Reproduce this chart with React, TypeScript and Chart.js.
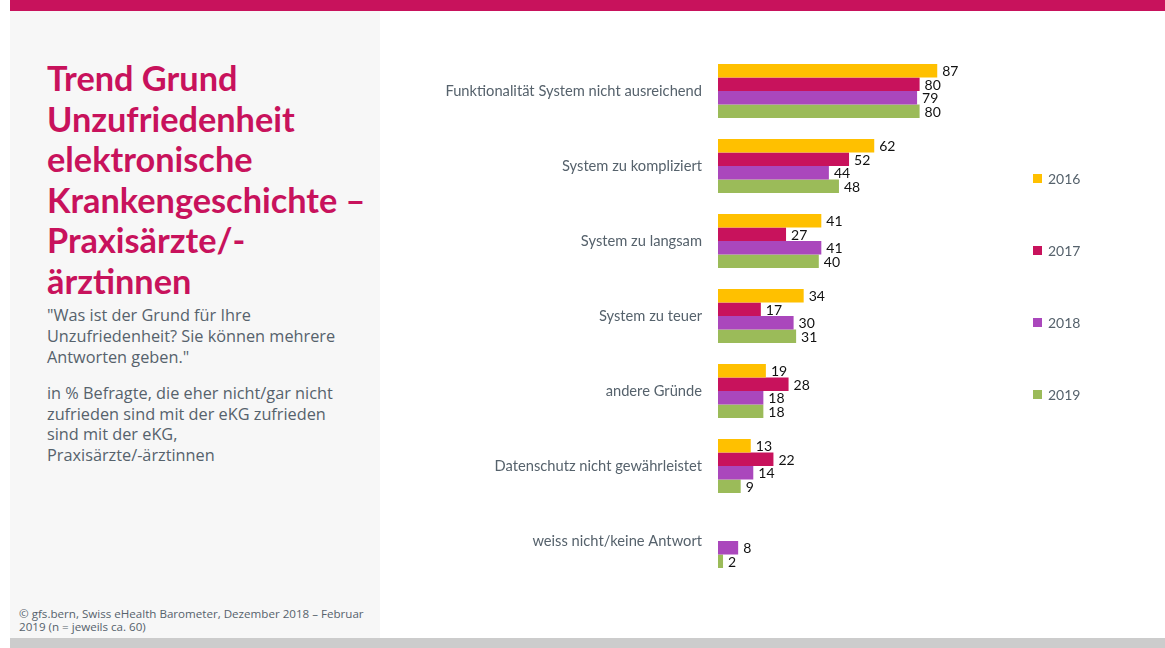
import React, { useEffect, useRef } from "react";
import { Chart, registerables } from "chart.js";

Chart.register(...registerables);

const categories = [
  "Funktionalität System nicht ausreichend",
  "System zu kompliziert",
  "System zu langsam",
  "System zu teuer",
  "andere Gründe",
  "Datenschutz nicht gewährleistet",
  "weiss nicht/keine Antwort",
];
const years = ["2016", "2017", "2018", "2019"];
const values2016 = [87, 62, 41, 34, 19, 13, null];
const values2017 = [80, 52, 27, 17, 28, 22, null];
const values2018 = [79, 44, 41, 30, 18, 14, 8];
const values2019 = [80, 48, 40, 31, 18, 9, 2];
const colors = ["#FFC000", "#C8125C", "#AA47BC", "#9BBB59"];

const FONT = "Lato, 'Open Sans', sans-serif";
const FONT2 = "'Open Sans', Lato, sans-serif";
const TEXT = "#56626c";

const valueLabels = {
  id: "valueLabels",
  afterDatasetsDraw(chart: any) {
    const ctx = chart.ctx;
    ctx.save();
    ctx.font = `14px ${FONT}`;
    ctx.fillStyle = "#111";
    ctx.textBaseline = "middle";
    ctx.textAlign = "left";
    chart.data.datasets.forEach((ds: any, i: number) => {
      const meta = chart.getDatasetMeta(i);
      meta.data.forEach((bar: any, j: number) => {
        const v = ds.data[j];
        if (v === null || v === undefined) return;
        ctx.fillText(String(v), bar.x + 5, bar.y + 1);
      });
    });
    ctx.restore();
  },
};

function BarChart() {
  const ref = useRef<HTMLCanvasElement>(null);
  useEffect(() => {
    if (!ref.current) return;
    const series = [values2016, values2017, values2018, values2019];
    const chart = new Chart(ref.current, {
      type: "bar",
      data: {
        labels: categories,
        datasets: years.map((y, i) => ({
          label: y,
          data: series[i],
          backgroundColor: colors[i],
          borderWidth: 0,
          barPercentage: 1,
          categoryPercentage: 0.72,
        })),
      },
      options: {
        indexAxis: "y",
        responsive: false,
        animation: false,
        layout: { padding: { top: 53.5, bottom: 69.5, right: 195, left: 0 } },
        plugins: { legend: { display: false }, tooltip: { enabled: false } },
        scales: {
          x: { display: false, min: 0, max: 100 },
          y: {
            grid: { display: false },
            border: { display: false },
            ticks: {
              color: TEXT,
              font: { family: FONT, size: 14.7 },
              padding: 8,
            },
            afterFit: (s: any) => {
              s.width = 338;
            },
          },
        },
      },
      plugins: [valueLabels],
    });
    return () => chart.destroy();
  }, []);
  return (
    <canvas
      ref={ref}
      width={785}
      height={648}
      style={{ position: "absolute", left: 380, top: 0, width: 785, height: 648 }}
    />
  );
}

export default function App() {
  useEffect(() => {
    document.body.style.margin = "0";
  }, []);
  const legendY = [178, 250, 322, 394];
  return (
    <div style={{ position: "relative", width: 1165, height: 648, overflow: "hidden", background: "#fff", fontFamily: FONT }}>
      <div style={{ position: "absolute", left: 10, top: 0, width: 1155, height: 11, background: "#C8125C" }} />
      <div style={{ position: "absolute", left: 10, top: 11, width: 370, height: 627, background: "#F7F7F7" }} />
      <div style={{ position: "absolute", left: 10, top: 638, width: 1155, height: 10, background: "#CCCCCC" }} />
      <div
        style={{
          position: "absolute",
          left: 47,
          top: 58,
          color: "#C8125C",
          fontWeight: 700,
          fontSize: 34.3,
          lineHeight: "40.6px",
          whiteSpace: "nowrap",
        }}
      >
        Trend Grund<br />Unzufriedenheit<br />elektronische<br />Krankengeschichte –<br />Praxisärzte/-<br />ärztinnen
      </div>
      <div style={{ position: "absolute", left: 47, top: 305, color: TEXT, fontFamily: FONT2, fontSize: 16.3, lineHeight: "21px", whiteSpace: "nowrap" }}>
        "Was ist der Grund für Ihre<br />Unzufriedenheit? Sie können mehrere<br />Antworten geben."
      </div>
      <div style={{ position: "absolute", left: 47, top: 383, color: TEXT, fontFamily: FONT2, fontSize: 16.3, lineHeight: "20.6px", whiteSpace: "nowrap" }}>
        in % Befragte, die eher nicht/gar nicht<br />zufrieden sind mit der eKG zufrieden<br />sind mit der eKG,<br />Praxisärzte/-ärztinnen
      </div>
      <div style={{ position: "absolute", left: 19, top: 607, color: TEXT, fontFamily: FONT2, fontSize: 11.6, lineHeight: "13px", whiteSpace: "nowrap" }}>
        © gfs.bern, Swiss eHealth Barometer, Dezember 2018 – Februar<br />2019 (n = jeweils ca. 60)
      </div>
      <BarChart />
      {years.map((y, i) => (
        <div key={y} style={{ position: "absolute", left: 1033, top: legendY[i] - 9, height: 18, display: "flex", alignItems: "center", color: TEXT, fontSize: 14 }}>
          <span style={{ display: "inline-block", width: 9, height: 9, background: colors[i], marginRight: 6 }} />
          {y}
        </div>
      ))}
    </div>
  );
}
